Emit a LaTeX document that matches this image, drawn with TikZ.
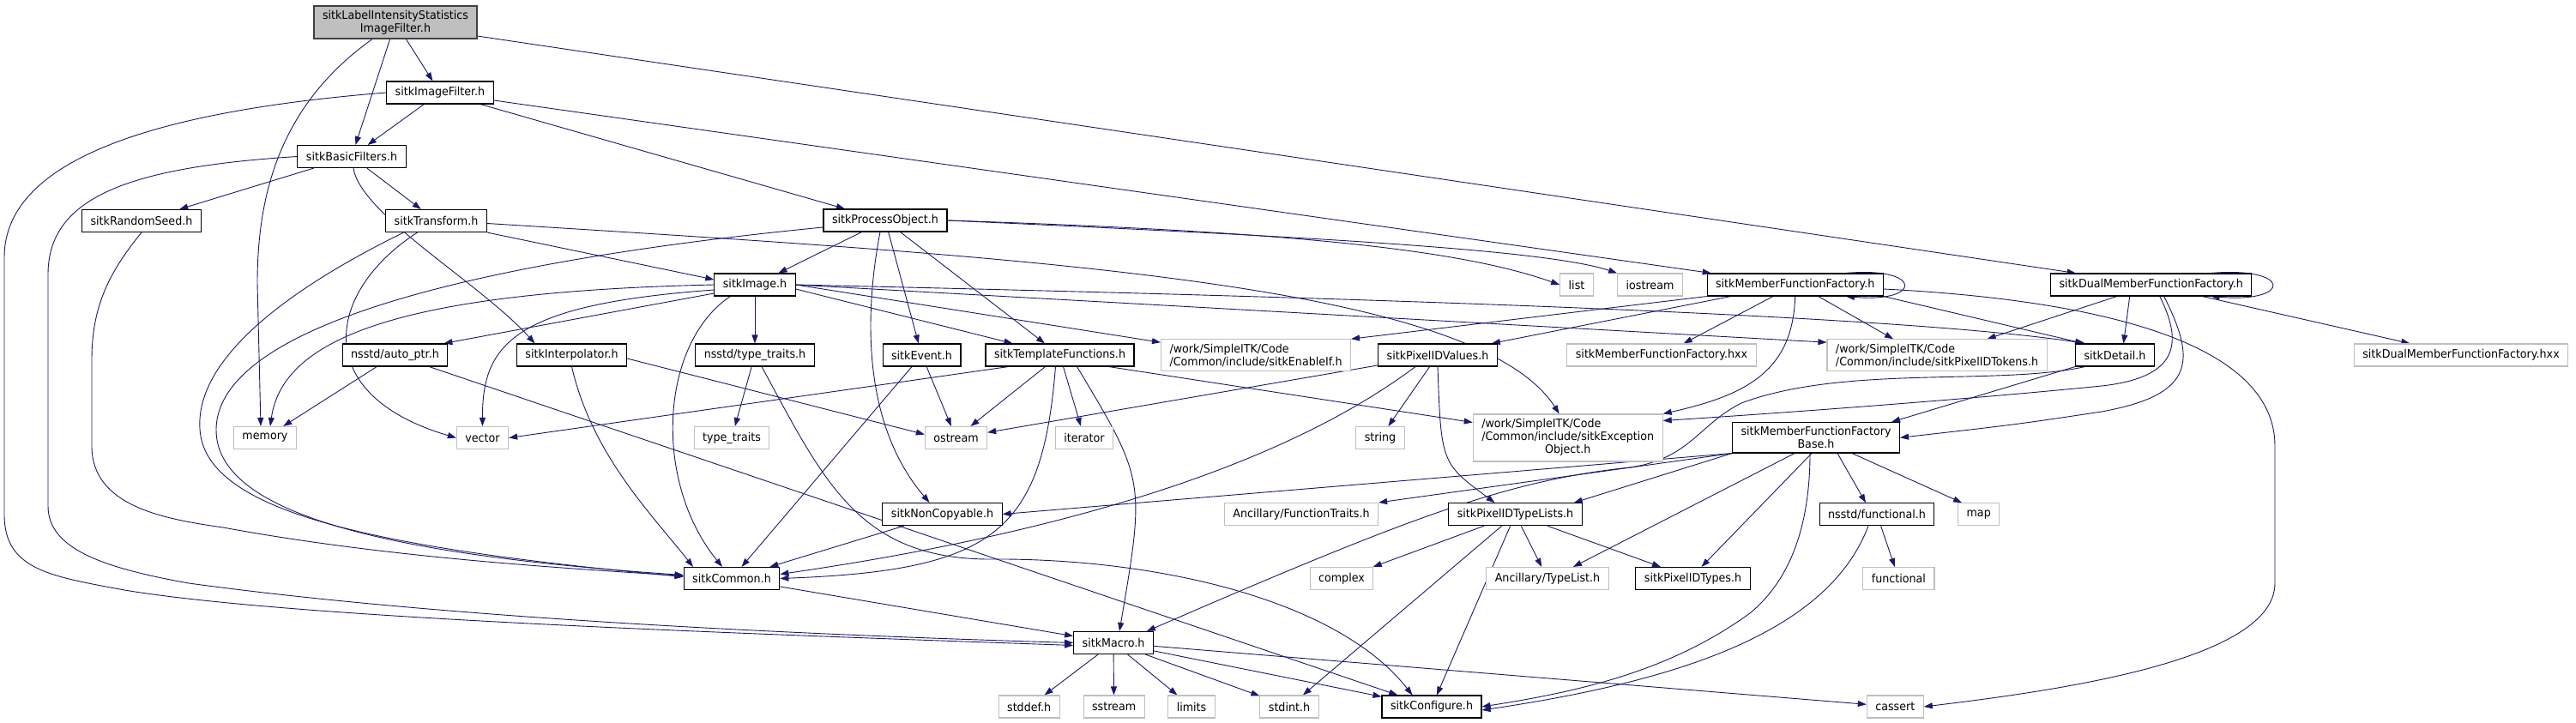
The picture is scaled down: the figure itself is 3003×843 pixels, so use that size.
\documentclass[tikz,border=0pt]{standalone}
\usepackage{fontspec}
\setmainfont{DejaVu Sans}[FakeStretch=0.94]
\usetikzlibrary{arrows.meta}
\definecolor{edgeblue}{RGB}{25,25,112}
\definecolor{boxgray}{RGB}{191,191,191}
\pgfdeclarelayer{edges}
\pgfsetlayers{edges,main}

\begin{document}
\begin{tikzpicture}[x=1pt, y=-1pt,
                    hdr/.style={draw=black, line width=1.1pt, fill=white, font=\fontsize{13.5}{15}\selectfont,
                                inner xsep=10pt, inner ysep=5pt, minimum height=26pt, align=center},
                    sys/.style={hdr, draw=boxgray},
                    topfile/.style={hdr, fill=boxgray, draw=black!75},
                    dep/.style={draw=edgeblue, line width=0.9pt, -{Triangle[length=10pt, width=7pt]}}]
                    \useasboundingbox (0,0) rectangle (3003,843);
                    %头文件%
                    \node[topfile] (lisif) at (461,26) {sitkLabelIntensityStatistics\\ImageFilter.h};
                    \node[hdr] (imgfilter) at (513,108) {sitkImageFilter.h};
                    \node[hdr] (basic) at (410,182.5) {sitkBasicFilters.h};
                    \node[hdr] (rseed) at (165,257.5) {sitkRandomSeed.h};
                    \node[hdr] (transform) at (508.5,257.5) {sitkTransform.h};
                    \node[hdr] (procobj) at (1032,257) {sitkProcessObject.h};
                    \node[hdr] (image) at (880,332) {sitkImage.h};
                    \node[sys] (list) at (1838,332) {list};
                    \node[sys] (iostream) at (1923.5,332) {iostream};
                    \node[hdr] (mff) at (2092.7,332) {sitkMemberFunctionFactory.h};
                    \node[hdr] (dual) at (2507.7,332) {sitkDualMemberFunctionFactory.h};
                    \node[hdr] (autoptr) at (460.5,414) {nsstd/auto\_ptr.h};
                    \node[hdr] (interp) at (666.5,414) {sitkInterpolator.h};
                    \node[hdr] (nstt) at (880,414) {nsstd/type\_traits.h};
                    \node[hdr] (event) at (1074.5,414) {sitkEvent.h};
                    \node[hdr] (tmplfn) at (1235.5,414) {sitkTemplateFunctions.h};
                    \node[sys, align=left] (enableif) at (1464,414) {/work/SimpleITK/Code\\/Common/include/sitkEnableIf.h};
                    \node[hdr] (pixvals) at (1676,414) {sitkPixelIDValues.h};
                    \node[sys] (mffhxx) at (1937,414) {sitkMemberFunctionFactory.hxx};
                    \node[sys, align=left] (tokens) at (2258,414) {/work/SimpleITK/Code\\/Common/include/sitkPixelIDTokens.h};
                    \node[hdr] (detail) at (2465.5,414) {sitkDetail.h};
                    \node[sys] (dualhxx) at (2869,414) {sitkDualMemberFunctionFactory.hxx};
                    \node[sys] (memory) at (309,510.5) {memory};
                    \node[sys] (vector) at (562.5,510.5) {vector};
                    \node[sys] (typetraits) at (853,510.5) {type\_traits};
                    \node[sys] (ostream) at (1114.5,510.5) {ostream};
                    \node[sys] (iterator) at (1264,510.5) {iterator};
                    \node[sys] (string) at (1609,510.5) {string};
                    \node[sys] (except) at (1827.7,510.5) {\begin{tabular}{@{}l@{}}/work/SimpleITK/Code\\/Common/include/sitkException\\\multicolumn{1}{@{}c@{}}{Object.h}\end{tabular}};
                    \node[hdr] (base) at (2117,510.3) {sitkMemberFunctionFactory\\Base.h};
                    \node[hdr] (noncopy) at (1098.5,599.5) {sitkNonCopyable.h};
                    \node[sys] (functraits) at (1517,599.5) {Ancillary/FunctionTraits.h};
                    \node[hdr] (typelists) at (1766.5,599.7) {sitkPixelIDTypeLists.h};
                    \node[hdr] (nsfunc) at (2188,599.7) {nsstd/functional.h};
                    \node[sys] (map) at (2306.7,599.7) {map};
                    \node[hdr] (common) at (853,674.5) {sitkCommon.h};
                    \node[sys] (complex) at (1564,674.5) {complex};
                    \node[sys] (typelist) at (1804,674.5) {Ancillary/TypeList.h};
                    \node[hdr] (pixtypes) at (1973.5,674.5) {sitkPixelIDTypes.h};
                    \node[sys] (functional) at (2213.4,674.5) {functional};
                    \node[hdr] (macro) at (1298,749.5) {sitkMacro.h};
                    \node[sys] (stddef) at (1199.7,824) {stddef.h};
                    \node[sys] (sstream) at (1298.6,824) {sstream};
                    \node[sys] (limits) at (1389,824) {limits};
                    \node[sys] (stdint) at (1503,824) {stdint.h};
                    \node[hdr] (configure) at (1669,824) {sitkConfigure.h};
                    \node[sys] (cassert) at (2209.3,824) {cassert};

                    \begin{pgfonlayer}{edges}
                    %上层依赖%
                    \draw[dep] (lisif) -- (imgfilter);
                    \draw[dep] (lisif) -- (basic);
                    \draw[dep] ([xshift=-27pt]lisif.south) .. controls (330,120) and (300,220) .. (300,330) -- ([xshift=-5pt]memory.north);
                    \draw[dep] ([yshift=-16pt]lisif.east) -- ([xshift=-88pt]dual.north);
                    \draw[dep] (imgfilter) -- (basic);
                    \draw[dep] (imgfilter) -- (procobj);
                    \draw[dep] ([yshift=-9pt]imgfilter.east) -- ([xshift=-98pt]mff.north);
                    \draw[dep] (imgfilter.west) .. controls (200,128) and (5,180) .. (5,300) -- (5,600) .. controls (5,665) and (60,672) .. (145,688) .. controls (350,722) and (900,740) .. ([yshift=-3pt]macro.west);
                    \draw[dep] (basic) -- (rseed);
                    \draw[dep] (basic) -- (transform);
                    \draw[dep] ([xshift=2pt]basic.south) .. controls (420,250) and (560,330) .. ([xshift=-43pt]interp.north);
                    \draw[dep] (basic.west) .. controls (150,195) and (56,230) .. (56,320) -- (56,590) .. controls (56,640) and (120,662) .. (220,680) .. controls (550,725) and (1000,742) .. (macro.west);
                    \draw[dep] (rseed.south) .. controls (125,320) and (107,360) .. (107,420) -- (107,520) .. controls (107,590) and (190,605) .. (260,615) .. controls (450,650) and (650,662) .. ([yshift=3pt]common.west);
                    \draw[dep] (transform.south east) -- ([yshift=6pt]image.west);
                    \draw[dep] ([xshift=-38pt]transform.south) .. controls (330,340) and (228,420) .. (233,500) .. controls (238,600) and (450,640) .. ([yshift=2pt]common.west);
                    \draw[dep] ([xshift=-22pt]transform.south) .. controls (380,340) and (360,460) .. (vector.west);
                    \draw[dep] ([yshift=-3pt]transform.east) .. controls (1200,300) and (1720,330) .. ([xshift=-10pt]except.north);
                    \draw[dep] (procobj) -- (image);
                    \draw[dep] (procobj) -- (event);
                    \draw[dep] (procobj) -- (tmplfn);
                    \draw[dep] ([xshift=-6pt]procobj.south) .. controls (1005,380) and (1010,500) .. ([xshift=-15pt]noncopy.north);
                    \draw[dep] (procobj.east) .. controls (1500,270) and (1700,290) .. (list.west);
                    \draw[dep] (procobj.east) .. controls (1500,275) and (1800,290) .. (iostream.north west);
                    \draw[dep] ([yshift=-8pt]procobj.west) .. controls (600,300) and (255,370) .. (252,500) .. controls (250,610) and (500,650) .. ([yshift=4pt]common.west);

                    %sitkImage.h%
                    \draw[dep] (image) -- (nstt);
                    \draw[dep] (image.east) -- ([yshift=-4pt]enableif.north west);
                    \draw[dep] ([yshift=-5pt]image.east) -- ([xshift=-55pt]tmplfn.north);
                    \draw[dep] (image.east) -- ([yshift=-4pt]tokens.north west);
                    \draw[dep] (image.east) .. controls (1500,345) and (2200,365) .. ([xshift=12pt]detail.north west);
                    \draw[dep] ([yshift=-10pt]image.west) -- ([xshift=-5pt]autoptr.north east);
                    \draw[dep] ([yshift=-6pt]image.west) .. controls (600,355) and (562,400) .. (vector.north);
                    \draw[dep] (image.west) .. controls (480,340) and (330,390) .. ([xshift=6pt]memory.north);
                    \draw[dep] ([xshift=19pt]image.south west) .. controls (770,400) and (760,560) .. ([xshift=-11pt]common.north);
                    \draw[dep] (autoptr) -- (memory);
                    \draw[dep] (autoptr) -- (configure);
                    \draw[dep] ([yshift=-4pt]interp.east) -- ([yshift=4pt]ostream.west);
                    \draw[dep] (interp.south) .. controls (690,530) and (760,600) .. ([xshift=-45pt]common.north);
                    \draw[dep] (nstt) -- (typetraits);
                    \draw[dep] ([xshift=8pt]nstt.south) .. controls (960,560) and (1000,650) .. (1150,652) .. controls (1350,650) and (1560,700) .. ([xshift=36pt]configure.north west);
                    \draw[dep] (event) -- (ostream);
                    \draw[dep] (event) -- (common);
                    \draw[dep] (tmplfn) -- (ostream);
                    \draw[dep] (tmplfn) -- (iterator);
                    \draw[dep] ([xshift=-60pt]tmplfn.south) -- (vector.east);
                    \draw[dep] ([xshift=-30pt]tmplfn.south east) -- ([yshift=18pt]except.west);
                    \draw[dep] ([xshift=-5pt]tmplfn.south) .. controls (1215,620) and (1160,665) .. (common.east);
                    \draw[dep] ([xshift=20pt]tmplfn.south) .. controls (1335,560) .. ([xshift=7pt]macro.north);
                    \draw[dep] (pixvals) -- (ostream);
                    \draw[dep] (pixvals) -- (string);
                    \draw[dep] ([xshift=-26pt]pixvals.south) .. controls (1500,540) and (1250,620) .. ([yshift=5pt]common.east);
                    \draw[dep] (pixvals.south) .. controls (1680,540) .. ([xshift=-24pt]typelists.north);

                    %工厂%
                    \draw[dep] (mff.south west) -- (enableif.north east);
                    \draw[dep] ([xshift=-75pt]mff.south) -- ([xshift=-7pt]pixvals.north east);
                    \draw[dep] (mff) -- (mffhxx);
                    \draw[dep] ([xshift=27pt]mff.south) -- ([xshift=-51pt]tokens.north);
                    \draw[dep] (mff.south east) -- ([xshift=10pt]detail.north west);
                    \draw[dep] (mff.south) .. controls (2090,430) and (2040,460) .. (except.north east);
                    \draw[dep] ([yshift=-5pt]mff.east) .. controls (2450,350) and (2652,400) .. (2652,520) -- (2652,680) .. controls (2652,770) and (2400,805) .. (cassert.east);
                    \draw[dep] ([xshift=-44pt]mff.north east) .. controls +(90pt,8pt) and +(90pt,-8pt) .. ([xshift=-44pt]mff.south east);
                    \draw[dep] ([xshift=-40pt]dual.south) -- ([xshift=-70pt]tokens.north east);
                    \draw[dep] ([xshift=-25pt]dual.south) -- ([xshift=10pt]detail.north);
                    \draw[dep] (dual) -- (dualhxx);
                    \draw[dep] ([xshift=-48pt]dual.north east) .. controls +(95pt,8pt) and +(95pt,-8pt) .. ([xshift=-48pt]dual.south east);
                    \draw[dep] ([xshift=10pt]dual.south) .. controls (2545,400) and (2540,440) .. (2450,450) .. controls (2300,465) and (2100,480) .. ([yshift=20pt]except.east);
                    \draw[dep] ([xshift=15pt]dual.south) .. controls (2560,420) and (2560,460) .. (2450,480) .. controls (2350,495) .. (base.east);
                    \draw[dep] (detail.south west) -- ([xshift=-10pt]base.north east);
                    \draw[dep] ([xshift=-35pt]detail.south) .. controls (2330,450) and (2150,425) .. (2030,470) .. controls (1980,495) and (1970,535) .. (1900,545) .. controls (1760,560) and (1650,600) .. ([xshift=-8pt]macro.north east);
                    \draw[dep] ([xshift=-56pt]base.south east) -- ([xshift=5pt]map.north west);
                    \draw[dep] ([xshift=25pt]base.south) -- ([xshift=-13pt]nsfunc.north);
                    \draw[dep] ([xshift=-5pt]base.south) -- ([xshift=10pt]pixtypes.north);
                    \draw[dep] ([xshift=-25pt]base.south) -- ([xshift=30pt]typelist.north);
                    \draw[dep] ([xshift=-7pt]base.south) .. controls (2110,640) and (2070,690) .. (2040,715) .. controls (1950,780) and (1850,805) .. (configure.east);
                    \draw[dep] (base.south west) -- ([xshift=-10pt]typelists.north east);
                    \draw[dep] (base.south west) -- (functraits.north east);
                    \draw[dep] (base.south west) -- (noncopy.east);

                    %底层%
                    \draw[dep] (typelists) -- (complex);
                    \draw[dep] (typelists) -- (typelist);
                    \draw[dep] (typelists) -- (pixtypes);
                    \draw[dep] (typelists) -- (stdint);
                    \draw[dep] (typelists) -- (configure);
                    \draw[dep] (nsfunc) -- (functional);
                    \draw[dep] ([xshift=-10pt]nsfunc.south) .. controls (2130,740) and (1950,795) .. ([yshift=-4pt]configure.east);
                    \draw[dep] (noncopy) -- (common);
                    \draw[dep] (common) -- (macro);
                    \draw[dep] (macro) -- (stddef);
                    \draw[dep] (macro) -- (sstream);
                    \draw[dep] (macro) -- (limits);
                    \draw[dep] (macro) -- (stdint);
                    \draw[dep] (macro) -- (configure);
                    \draw[dep] (macro) -- (cassert);
                    \end{pgfonlayer}
                \end{tikzpicture}
\end{document}
